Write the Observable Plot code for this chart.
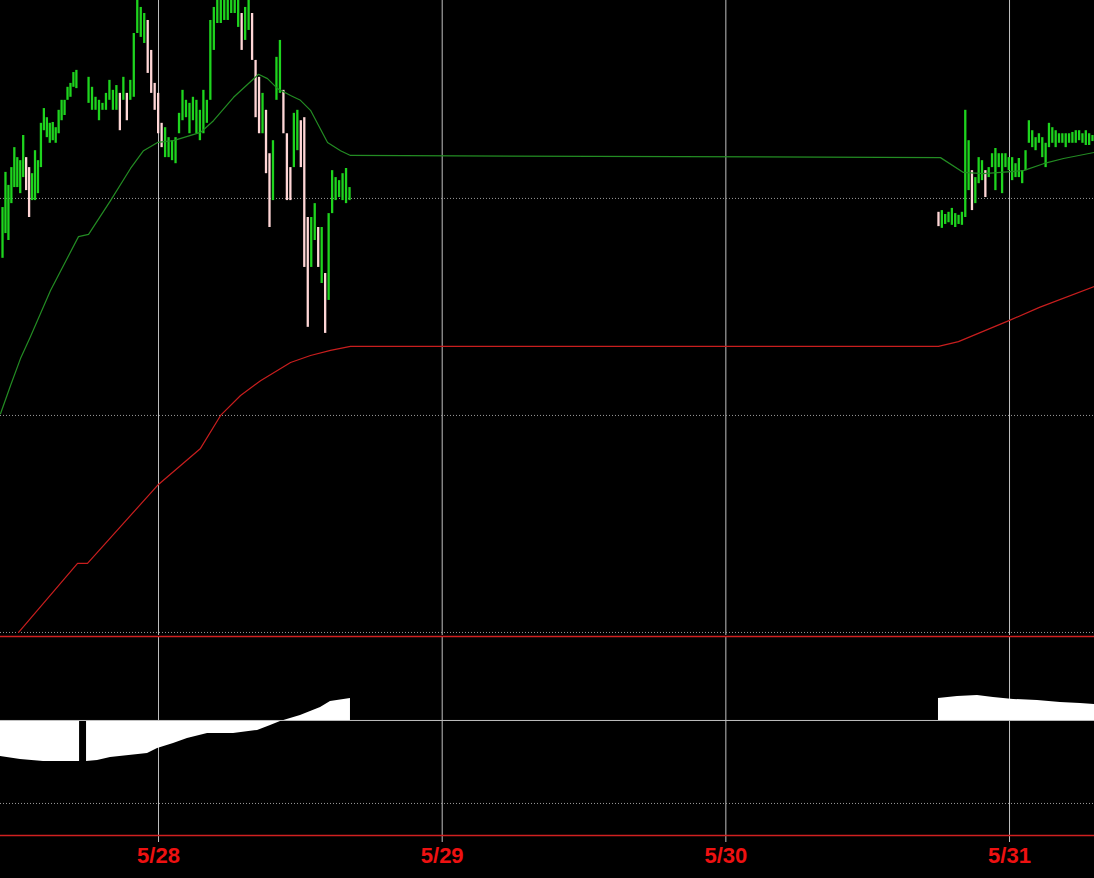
<!DOCTYPE html>
<html><head><meta charset="utf-8">
<script src="https://cdn.jsdelivr.net/npm/d3@7"></script>
<script src="https://cdn.jsdelivr.net/npm/@observablehq/plot@0.6"></script>
<style>
html,body{margin:0;padding:0;background:#000;}
#chart svg{display:block;overflow:hidden;background:#000;}
</style></head><body><div id="chart"></div>
<script>
// x values are hours from 5/28 00:00
const dayTicks = [0, 24, 48, 72];
const dayLabels = ["5/28", "5/29", "5/30", "5/31"];
const priceGrid = [100, 150, 200];
const oscGrid = [-50];
const xDomain = [-13.37, 79.19];
const priceDomain = [99.3, 245.6];
const oscDomain = [-69.3, 50.6];

// price bar sessions (first bar hour, last bar hour)
const sessionStart = [-13.2, -5.92, 65.99];
const sessionEnd = [-6.95, 16.16, 79.02];

const s1High = [197.9, 206.0, 203.0, 207.1, 211.7, 209.4, 208.7, 214.5, 209.4, 207.1, 205.7, 211.0, 208.7, 217.3, 220.7, 218.6, 217.3, 217.5, 216.3, 220.3, 222.6, 222.6, 225.6, 226.5, 229.0, 229.5];
const s1Low  = [186.2, 191.9, 190.3, 198.8, 202.5, 202.5, 201.1, 204.8, 201.8, 195.6, 199.5, 199.5, 201.1, 207.1, 215.6, 214.0, 212.7, 213.3, 212.7, 214.9, 217.9, 219.1, 222.6, 223.3, 225.6, 225.3];

const s2High = [227.9, 225.6, 223.3, 222.6, 221.9, 224.2, 227.2, 224.9, 226.0, 224.2, 227.9, 224.2, 227.2, 238.0, 247.0, 244.0, 242.6, 241.0, 234.1, 226.5,
  224.2, 217.3, 216.3, 214.0, 213.3, 214.0, 219.6, 224.9, 222.6, 221.9, 223.3, 222.6, 220.3, 224.9, 222.6, 241.0, 244.0, 247.0, 247.0, 247.0,
  247.0, 247.0, 247.0, 247.0, 242.6, 244.0, 246.0, 242.6, 231.8, 227.9, 224.2, 220.3, 210.3, 213.3, 232.5, 236.4, 224.9, 214.9, 207.1, 219.6,
  220.3, 217.9, 218.6, 195.6, 195.6, 198.8, 193.3, 193.3, 182.7, 196.5, 206.4, 204.8, 204.1, 205.7, 206.9, 202.5];
const s2Low  = [221.9, 220.3, 220.3, 217.9, 220.3, 220.3, 222.6, 220.3, 220.3, 215.6, 222.6, 217.9, 222.6, 223.3, 238.0, 237.1, 235.7, 228.8, 224.2, 220.3,
  214.9, 211.7, 209.4, 209.4, 208.7, 208.0, 214.9, 217.9, 218.6, 214.9, 217.9, 214.9, 213.3, 214.9, 217.3, 222.6, 234.1, 240.3, 240.3, 241.0,
  241.0, 242.6, 242.6, 239.4, 234.1, 236.4, 238.7, 231.8, 218.6, 214.9, 214.9, 205.7, 193.3, 199.5, 222.6, 224.2, 214.9, 199.5, 199.5, 207.1,
  211.0, 207.1, 184.1, 170.3, 184.1, 190.3, 184.1, 180.4, 168.9, 176.5, 196.5, 199.5, 200.2, 199.5, 198.8, 199.5];

const s3High = [196.8, 197.2, 196.3, 196.8, 197.7, 196.5, 196.1, 196.8, 220.3, 213.3, 206.4, 204.8, 209.4, 208.7, 206.4, 207.1, 210.3, 211.5, 210.3, 210.3,
  210.3, 209.4, 209.4, 208.0, 209.2, 206.4, 211.0, 217.9, 215.6, 214.0, 214.9, 214.0, 212.7, 217.3, 216.3, 215.6, 214.9, 214.9, 214.9, 214.9,
  215.2, 215.6, 215.6, 214.9, 215.6, 214.9, 214.5];
const s3Low  = [193.5, 193.1, 194.0, 194.4, 193.8, 193.3, 194.0, 193.8, 195.6, 201.8, 197.2, 198.8, 203.4, 204.1, 200.2, 204.8, 207.1, 201.8, 207.1, 201.1,
  207.1, 206.4, 204.1, 204.8, 204.8, 203.4, 206.4, 212.7, 211.7, 211.0, 212.7, 209.4, 207.1, 211.7, 212.7, 211.7, 212.7, 212.7, 211.7, 212.7,
  212.7, 212.7, 213.3, 212.7, 212.2, 212.2, 213.1];

// moving averages
const greenMaHour  = [-13.37, -12.52, -11.68, -10.83, -9.14, -6.77, -5.92, -4.06, -2.37, -1.27, -0.08, 1.27, 3.55, 4.65, 6.35, 8.46, 9.22, 10.07, 11.17, 12.01, 12.86, 14.30, 15.40, 16.24, 66.16, 68.10, 69.80, 71.24, 73.18, 74.87, 76.57, 79.19];
const greenMaValue = [150.4, 156.9, 163.1, 168.2, 178.8, 191.2, 191.7, 199.5, 206.9, 211.0, 212.9, 213.3, 215.2, 217.9, 223.3, 228.6, 227.6, 225.3, 223.7, 222.6, 220.3, 212.9, 211.0, 209.9, 209.4, 206.0, 205.7, 206.0, 206.4, 208.0, 209.2, 210.6];
const redMaHour  = [-11.84, -6.85, -6.01, -0.08, 3.55, 5.25, 6.94, 8.63, 11.17, 12.86, 14.55, 16.24, 65.99, 67.68, 72.00, 74.53, 79.19];
const redMaValue = [100.0, 115.9, 115.9, 133.9, 142.4, 150.0, 154.6, 158.0, 162.2, 163.8, 165.0, 165.9, 165.9, 167.0, 171.9, 174.9, 179.7];

// lower oscillator (null = no data)
const oscHour  = [-13.37, -11.68, -9.73, -6.68, -6.40, -6.09, -5.16, -4.06, -0.93, -0.08, 1.27, 2.45, 4.15, 6.35, 8.38, 9.48, 10.32, 12.01, 13.71, 14.55, 16.24, 40.0, 65.99, 67.60, 69.29, 70.64, 72.34, 74.37, 76.31, 78.00, 79.19];
const oscValue = [-21.7, -23.5, -24.7, -24.7, null, -24.7, -24.1, -22.3, -19.9, -16.9, -13.9, -10.8, -7.8, -7.8, -6.0, -3.0, -0.6, 3.0, 7.8, 11.4, 13.3, null, 13.3, 14.5, 15.1, 13.9, 12.7, 12.0, 10.8, 10.2, 9.6];

// build tables
const bars = [];
[[s1High, s1Low], [s2High, s2Low], [s3High, s3Low]].forEach(([hi, lo], k) => {
  const step = (sessionEnd[k] - sessionStart[k]) / (hi.length - 1);
  hi.forEach((h, i) => bars.push({t: sessionStart[k] + i * step, high: h, low: lo[i]}));
});
bars.forEach((b, i) => {
  const p = bars[i - 1];
  b.down = !!p && (b.high + b.low) / 2 < (p.high + p.low) / 2 - 3;
});
const greenMa = greenMaHour.map((t, i) => ({t, v: greenMaValue[i]}));
const redMa = redMaHour.map((t, i) => ({t, v: redMaValue[i]}));
const osc = oscHour.map((t, i) => ({t, v: oscValue[i]}));

const GRID = "#c0c0c0", DOT = "#9a9a9a", FRAME_RED = "#d02020";

const main = Plot.plot({
  width: 1094, height: 635, margin: 0,
  style: {background: "#000", color: GRID},
  x: {domain: xDomain, axis: null},
  y: {domain: priceDomain, axis: null},
  marks: [
    Plot.ruleX(dayTicks, {stroke: GRID, strokeWidth: 1}),
    Plot.ruleY(priceGrid, {stroke: DOT, strokeDasharray: "1,2", strokeWidth: 1}),
    Plot.ruleX(bars, {x: "t", y1: "low", y2: "high", stroke: d => d.down ? "#ffd6d6" : "#1ed41e", strokeWidth: 2.3, clip: true}),
    Plot.line(greenMa, {x: "t", y: "v", stroke: "#238c23", strokeWidth: 1.2}),
    Plot.line(redMa, {x: "t", y: "v", stroke: "#c81e1e", strokeWidth: 1.2})
  ]
});

const lower = Plot.plot({
  width: 1094, height: 243, marginTop: 1, marginBottom: 43, marginLeft: 0, marginRight: 0,
  style: {background: "#000", color: GRID},
  x: {domain: xDomain, axis: null},
  y: {domain: oscDomain, axis: null},
  marks: [
    Plot.ruleX(dayTicks, {stroke: GRID, strokeWidth: 1}),
    Plot.areaY(osc, {x: "t", y1: 0, y2: "v", fill: "#ffffff", curve: "linear"}),
    Plot.ruleY([0], {stroke: GRID, strokeWidth: 1}),
    Plot.ruleY(oscGrid, {stroke: DOT, strokeDasharray: "1,2", strokeWidth: 1}),
    Plot.axisX(dayTicks, {tickSize: 7, tickFormat: () => "", label: null, stroke: GRID}),
    Plot.ruleY([oscDomain[0], oscDomain[1]], {stroke: FRAME_RED, strokeWidth: 1.5}),
    Plot.text(dayTicks, {x: d => d, frameAnchor: "bottom", dy: 20, text: d => dayLabels[dayTicks.indexOf(d)],
      fill: "#ee1111", fontSize: 22, fontWeight: "bold", fontFamily: "Liberation Sans, Arial, sans-serif", lineAnchor: "middle"})
  ]
});

const host = document.getElementById("chart");
host.appendChild(main);
host.appendChild(lower);
</script></body></html>
